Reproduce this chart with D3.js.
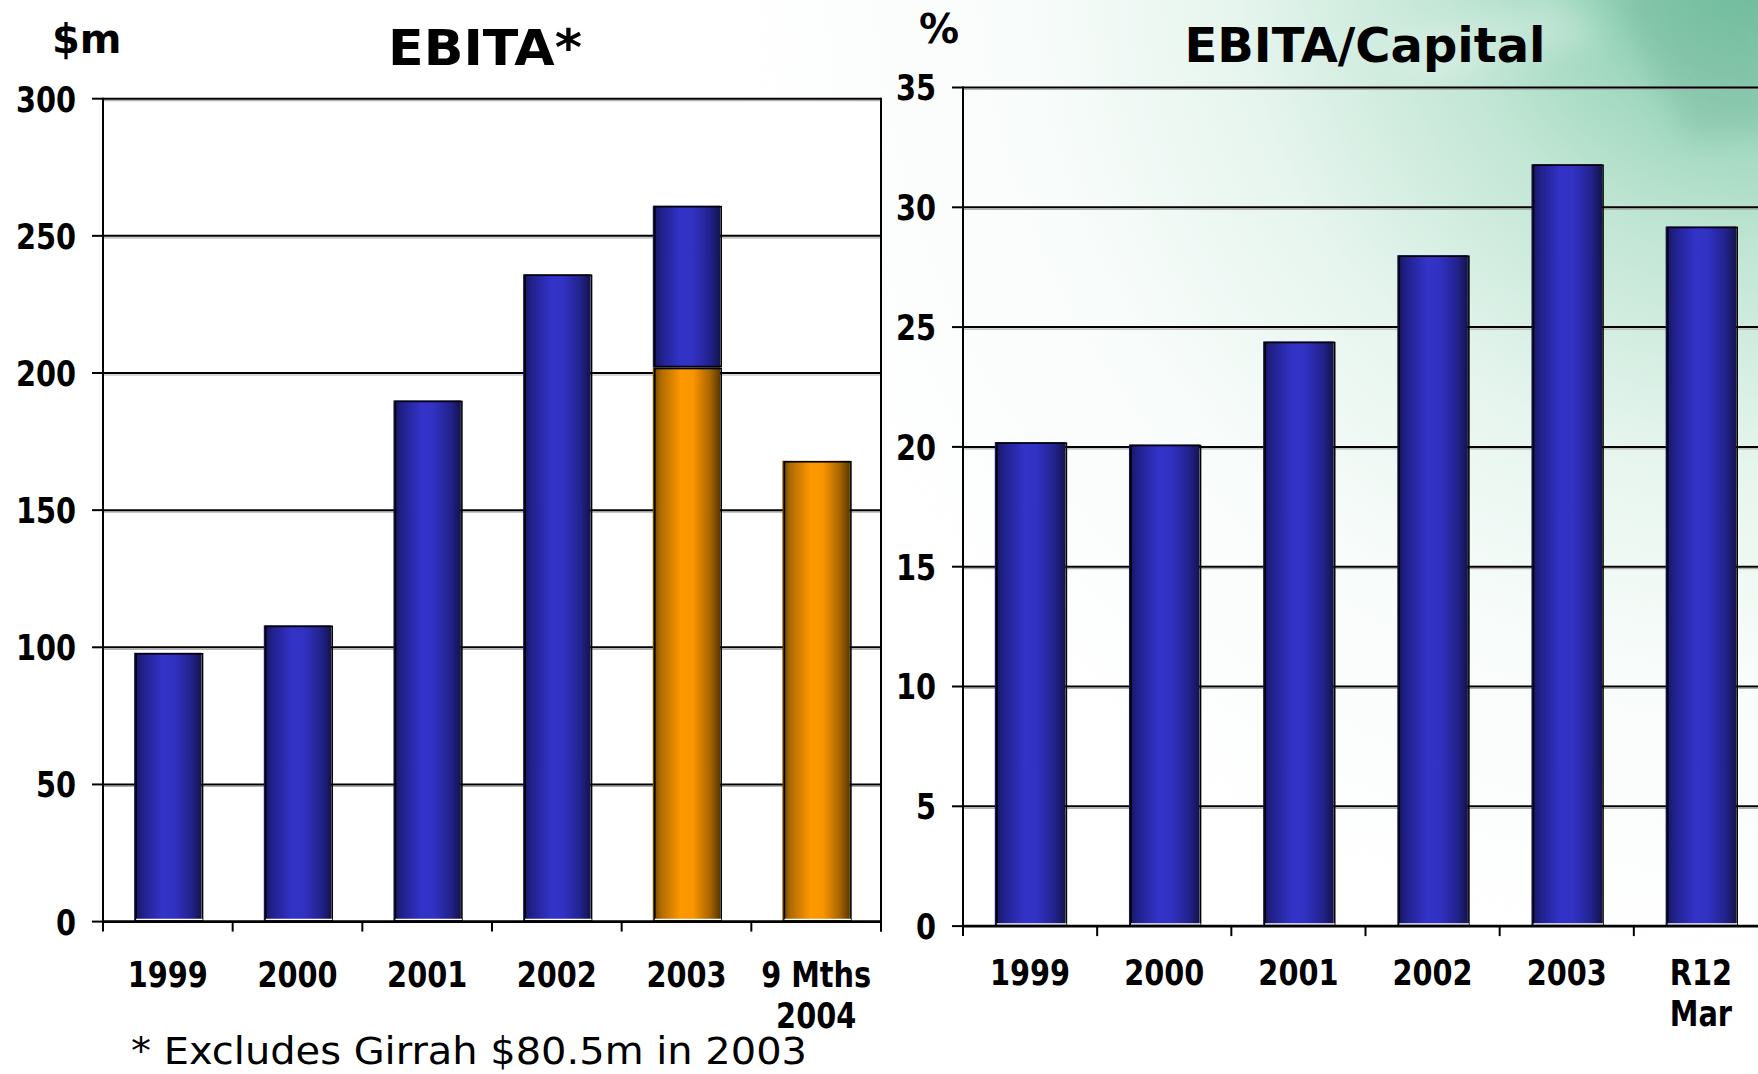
<!DOCTYPE html>
<html><head><meta charset="utf-8">
<script src="https://cdn.jsdelivr.net/npm/d3@7"></script>
<style>html,body{margin:0;padding:0;background:#fff;overflow:hidden}</style>
</head><body>
<svg id="c" width="1758" height="1074"></svg>
<script>
// ---- data ----
const leftCategories = ["1999", "2000", "2001", "2002", "2003", "9 Mths\n2004"];
const leftBlue   = [98, 108, 190, 236, 59, 0];     // blue segment (on top)
const leftOrange = [0, 0, 0, 0, 202, 168];         // orange segment (bottom)
const leftTicks  = [0, 50, 100, 150, 200, 250, 300];

const rightCategories = ["1999", "2000", "2001", "2002", "2003", "R12\nMar"];
const rightValues = [20.2, 20.1, 24.4, 28.0, 31.8, 29.2];
const rightTicks  = [0, 5, 10, 15, 20, 25, 30, 35];

const FONT = "'DejaVu Sans', Verdana, sans-serif";
const svg = d3.select("#c");
const defs = svg.append("defs");

// background gradient (slide background)
const bg = defs.append("radialGradient").attr("id", "bgGrad")
  .attr("gradientUnits", "userSpaceOnUse").attr("cx", 1758).attr("cy", -60).attr("r", 1050);
[[0, "#6cbf9c"], [0.12, "#8ed0b3"], [0.3, "#c2e6d5"], [0.5, "#e6f5ee"], [0.7, "#f8fcfa"], [1, "#ffffff"]]
  .forEach(([o, c]) => bg.append("stop").attr("offset", o).attr("stop-color", c));
defs.append("filter").attr("id", "blur").append("feGaussianBlur").attr("stdDeviation", 14);

function barGrad(id, stops) {
  const g = defs.append("linearGradient").attr("id", id).attr("x1", 0).attr("x2", 1).attr("y1", 0).attr("y2", 0);
  stops.forEach(([o, c]) => g.append("stop").attr("offset", o).attr("stop-color", c));
}
barGrad("blueGrad", [[0, "#15155a"], [0.12, "#20208a"], [0.42, "#3333c9"], [0.6, "#3131c2"], [0.85, "#22228c"], [1, "#13134c"]]);
barGrad("orangeGrad", [[0, "#6a4000"], [0.12, "#b06b00"], [0.42, "#ff9900"], [0.6, "#f89500"], [0.85, "#a86500"], [1, "#5a3700"]]);

svg.append("rect").attr("width", 1758).attr("height", 1074).attr("fill", "url(#bgGrad)");
svg.append("polygon").attr("points", "1600,-20 1780,-20 1780,130 1690,140")
  .attr("fill", "#4f947b").attr("opacity", 0.2).attr("filter", "url(#blur)");
svg.append("polygon").attr("points", "1380,40 1560,0 1600,40 1420,80")
  .attr("fill", "#ffffff").attr("opacity", 0.25).attr("filter", "url(#blur)");

function drawChart(opt) {
  const g = svg.append("g");
  const x = d3.scaleBand().domain(opt.categories).range([opt.x0, opt.x1])
    .paddingInner(opt.pad).paddingOuter(opt.pad / 2);
  const xb = d3.scaleBand().domain(opt.categories).range([opt.x0, opt.x1]).padding(0);
  const y = d3.scaleLinear().domain([0, opt.max]).range([opt.yBottom, opt.yTop]);
  const gx1 = opt.clip ? 1758 : opt.x1;

  if (opt.white) g.append("rect").attr("x", opt.x0).attr("y", y(opt.max)).attr("width", opt.x1 - opt.x0)
    .attr("height", opt.yBottom - y(opt.max)).attr("fill", "#fff");

  // gridlines
  opt.ticks.filter(t => t > 0).forEach(t => {
    g.append("line").attr("x1", opt.x0).attr("x2", gx1).attr("y1", y(t) + 2).attr("y2", y(t) + 2)
      .attr("stroke", "#b0b0b0").attr("stroke-width", 1.2);
    g.append("line").attr("x1", opt.x0).attr("x2", gx1).attr("y1", y(t)).attr("y2", y(t))
      .attr("stroke", "#000").attr("stroke-width", 2);
  });
  if (!opt.clip) g.append("line").attr("x1", opt.x1).attr("x2", opt.x1).attr("y1", y(opt.max) - 1).attr("y2", opt.yBottom + 10)
    .attr("stroke", "#000").attr("stroke-width", 2);

  // bars
  const stack = d3.stack().keys(opt.keys)(opt.rows);
  stack.forEach(layer => {
    const grad = opt.grads[layer.key];
    layer.forEach((d, i) => {
      if (d[1] - d[0] <= 0) return;
      const bx = x(opt.categories[i]), bw = x.bandwidth();
      const top = y(d[1]), bot = y(d[0]);
      g.append("rect").attr("x", bx).attr("y", top).attr("width", bw).attr("height", bot - top)
        .attr("fill", `url(#${grad})`);
      g.append("rect").attr("x", bx + 2).attr("y", top + 1).attr("width", bw - 1).attr("height", bot - top - 2)
        .attr("fill", "none").attr("stroke", "#000").attr("stroke-width", 1.6);
      if (d[0] === 0) g.append("line").attr("x1", bx + 2).attr("x2", bx + bw + 1)
        .attr("y1", bot - 2).attr("y2", bot - 2).attr("stroke", "#fff").attr("stroke-width", 1.5);
    });
  });

  // axes
  g.append("line").attr("x1", opt.x0).attr("x2", opt.x0).attr("y1", y(opt.max) - 1).attr("y2", opt.yBottom + 10)
    .attr("stroke", "#000").attr("stroke-width", 2);
  g.append("line").attr("x1", opt.x0).attr("x2", gx1).attr("y1", opt.yBottom).attr("y2", opt.yBottom)
    .attr("stroke", "#000").attr("stroke-width", 2.6);
  opt.ticks.forEach(t => {
    g.append("line").attr("x1", opt.x0 - 11).attr("x2", opt.x0).attr("y1", y(t)).attr("y2", y(t))
      .attr("stroke", "#000").attr("stroke-width", 2);
    g.append("g").attr("transform", `translate(${opt.x0 - 27},${y(t)}) scale(0.8,1)`)
      .append("text").attr("text-anchor", "end").attr("dy", "0.36em")
      .attr("font-family", FONT).attr("font-weight", "bold").attr("font-size", 36).text(t);
  });
  opt.categories.forEach(c => {
    g.append("line").attr("x1", xb(c) + xb.bandwidth()).attr("x2", xb(c) + xb.bandwidth())
      .attr("y1", opt.yBottom).attr("y2", opt.yBottom + 10).attr("stroke", "#000").attr("stroke-width", 2);
    const t = g.append("g").attr("transform", `translate(${xb(c) + xb.bandwidth() / 2},${opt.labelY}) scale(0.8,1)`)
      .append("text").attr("text-anchor", "middle")
      .attr("font-family", FONT).attr("font-weight", "bold").attr("font-size", 36);
    c.split("\n").forEach((line, k) => t.append("tspan").attr("x", 0).attr("y", k * 41).text(line));
  });
}

drawChart({
  categories: leftCategories, keys: ["orange", "blue"],
  rows: leftCategories.map((c, i) => ({ orange: leftOrange[i], blue: leftBlue[i] })),
  grads: { orange: "orangeGrad", blue: "blueGrad" },
  ticks: leftTicks, max: 300, x0: 103, x1: 881, yTop: 98.7, yBottom: 921.6,
  pad: 0.48, labelY: 987, white: true, clip: false
});
drawChart({
  categories: rightCategories, keys: ["v"],
  rows: rightCategories.map((c, i) => ({ v: rightValues[i] })),
  grads: { v: "blueGrad" },
  ticks: rightTicks, max: 35, x0: 963, x1: 1768, yTop: 87.5, yBottom: 926.1,
  pad: 0.474, labelY: 985, white: false, clip: true
});

// titles and unit labels
const txt = (x, y, s, size, anchor, weight) => svg.append("text").attr("x", x).attr("y", y)
  .attr("text-anchor", anchor).attr("font-family", FONT).attr("font-weight", weight)
  .attr("font-size", size).text(s);
txt(388, 65, "EBITA*", 49, "start", "bold").attr("textLength", 194).attr("lengthAdjust", "spacingAndGlyphs");
txt(1365, 62, "EBITA/Capital", 48, "middle", "bold");
txt(52, 53, "$m", 40, "start", "bold");
txt(919, 43, "%", 40, "start", "bold");
txt(131, 1064, "* Excludes Girrah $80.5m in 2003", 37, "start", "normal")
  .attr("textLength", 676).attr("lengthAdjust", "spacingAndGlyphs");
</script>
</body></html>
